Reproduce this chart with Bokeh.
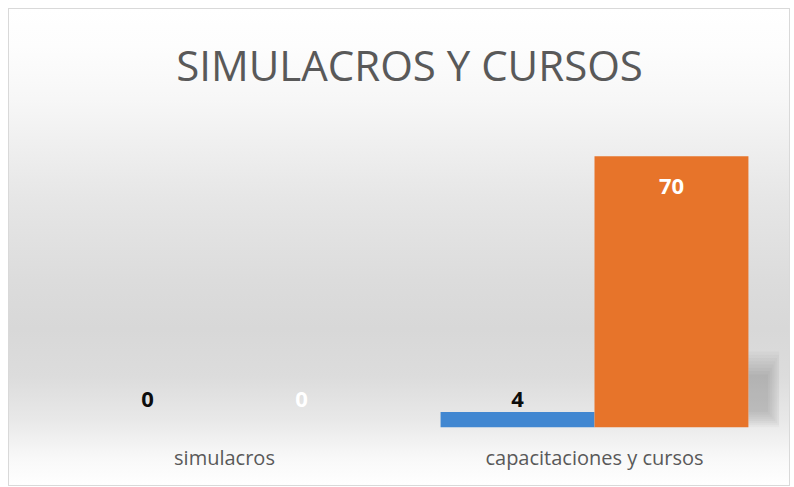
from bokeh.plotting import figure
from bokeh.models import ColumnDataSource, FactorRange, Range1d
from bokeh.transform import dodge
from bokeh.core.properties import value
from bokeh.embed import file_html
from bokeh.resources import INLINE

# ---- data ----
chart_title = "SIMULACROS Y CURSOS"
categories = ["simulacros", "capacitaciones y cursos"]
serie_1 = [0, 4]      # blue series
serie_2 = [0, 70]     # orange series
y_max = 80
label_min = 4

# ---- style ----
BLUE = "#4187d1"
ORANGE = "#e7742a"
BAR_W = 0.416
OFF = BAR_W / 2

src = ColumnDataSource(dict(
    cat=categories,
    s1=serie_1,
    s2=serie_2,
    s1_txt=[str(v) for v in serie_1],
    s2_txt=[str(v) for v in serie_2],
    s1_lab=[max(v, label_min) for v in serie_1],
    s2_lab=[max(v, label_min) for v in serie_2],
    s2_off=[30 if v > label_min else -13 for v in serie_2],
))

p = figure(
    x_range=FactorRange(factors=categories, range_padding=0),
    y_range=Range1d(0, y_max),
    width=782, height=478,
    min_border_left=31, min_border_right=11,
    min_border_top=109, min_border_bottom=59,
    output_backend="svg", toolbar_location=None,
    title=chart_title,
)
p.margin = (8, 0, 0, 8)
p.styles = {
    "background": "linear-gradient(to bottom, #ffffff 0%, #fdfdfd 8%, #f7f7f7 19%, "
                  "#e6e6e6 40%, #dcdcdc 57%, #d8d8d8 67%, #dcdcdc 77%, #e8e8e8 86%, "
                  "#f8f8f8 94%, #ffffff 100%)",
    "box-shadow": "inset 0 0 0 1px #d9d9d9",
}
p.border_fill_color = None
p.background_fill_color = None
p.outline_line_color = None

# soft shadow to the right of the orange bars
for k in range(8):
    w = 0.088 - k * 0.005
    top_f = 0.28 - k * 0.012
    bot_f = 0.0 + k * 0.008
    src.data[f"sht{k}"] = [v * top_f for v in serie_2]
    src.data[f"shb{k}"] = [v * bot_f for v in serie_2]
    p.vbar(x=dodge("cat", OFF + BAR_W / 2 + w / 2, range=p.x_range),
           top=f"sht{k}", bottom=f"shb{k}",
           width=w, source=src, fill_color="black", fill_alpha=0.024, line_color=None)

p.vbar(x=dodge("cat", -OFF, range=p.x_range), top="s1", width=BAR_W, source=src,
       fill_color=BLUE, line_color=None)
p.vbar(x=dodge("cat", OFF, range=p.x_range), top="s2", width=BAR_W, source=src,
       fill_color=ORANGE, line_color=None)

p.text(x=dodge("cat", -OFF, range=p.x_range), y="s1_lab", text="s1_txt", source=src,
       y_offset=-13, text_align="center", text_baseline="middle",
       text_font=value("Open Sans"), text_font_style="bold", text_font_size="22px",
       text_color="#0d0d0d")
p.text(x=dodge("cat", OFF, range=p.x_range), y="s2_lab", text="s2_txt", source=src,
       y_offset="s2_off", text_align="center", text_baseline="middle",
       text_font=value("Open Sans"), text_font_style="bold", text_font_size="22px",
       text_color="#ffffff")

p.title.align = "center"
p.title.text_font = "Open Sans"
p.title.text_font_size = "42px"
p.title.text_font_style = "normal"
p.title.text_color = "#595959"
p.title.standoff = 50

p.yaxis.visible = False
p.xgrid.visible = False
p.ygrid.visible = False
p.xaxis.axis_line_color = None
p.xaxis.major_tick_line_color = None
p.xaxis.major_tick_out = 0
p.xaxis.major_label_text_font = "Open Sans"
p.xaxis.major_label_text_font_size = "20px"
p.xaxis.major_label_text_color = "#595959"
p.xaxis.major_label_standoff = 16

open("out.html", "w").write(file_html(p, INLINE))
